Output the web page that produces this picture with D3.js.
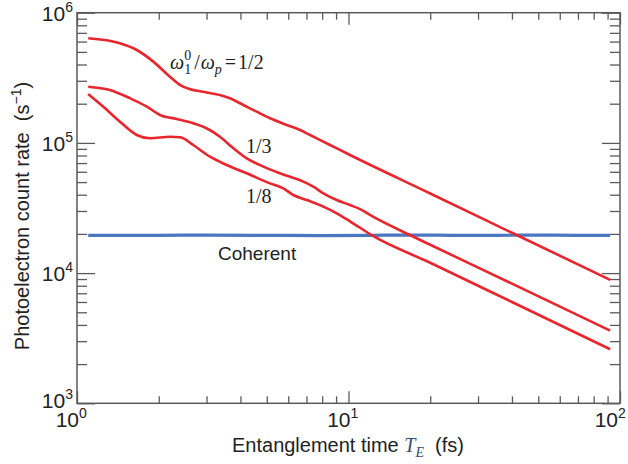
<!DOCTYPE html>
<html>
<head>
<meta charset="utf-8">
<script src="https://cdn.jsdelivr.net/npm/d3@7"></script>
<style>
  html, body { margin: 0; padding: 0; background: #fff; }
  svg { display: block; }
</style>
</head>
<body>
<svg id="chart" width="628" height="464"></svg>
<script>
// ---------------- data ----------------
const xDomain = [1, 100];
const yDomain = [1e3, 1e6];

// ω1⁰/ωp = 1/2
const ratioHalfX = [1.10, 1.44, 1.66, 1.91, 2.20, 2.40, 2.61, 2.92, 3.36, 3.66, 4.10, 4.59, 5.14, 5.92, 6.63, 7.22, 8.55, 10.13, 20, 40, 92];
const ratioHalfY = [6.36e5, 5.82e5, 5.17e5, 4.21e5, 3.22e5, 2.78e5, 2.58e5, 2.47e5, 2.33e5, 2.20e5, 1.955e5, 1.736e5, 1.545e5, 1.373e5, 1.257e5, 1.150e5, 9.64e4, 8.07e4, 4.09e4, 2.04e4, 8.88e3];

// 1/3
const ratioThirdX = [1.10, 1.32, 1.57, 1.81, 2.02, 2.33, 2.68, 3.00, 3.36, 3.77, 4.22, 4.86, 5.59, 6.82, 7.42, 8.08, 9.05, 10.13, 11.03, 12.31, 17.28, 20, 40, 92];
const ratioThirdY = [2.70e5, 2.55e5, 2.20e5, 1.897e5, 1.638e5, 1.526e5, 1.414e5, 1.295e5, 1.116e5, 9.09e4, 7.61e4, 6.57e4, 5.84e4, 5.04e4, 4.61e4, 4.10e4, 3.64e4, 3.33e4, 3.10e4, 2.71e4, 1.91e4, 1.65e4, 8.3e3, 3.62e3];

// 1/8
const ratioEighthX = [1.10, 1.25, 1.44, 1.66, 1.86, 2.20, 2.40, 2.68, 3.09, 3.56, 4.22, 5.14, 5.75, 6.26, 7.02, 8.08, 9.05, 10.13, 12.31, 20, 40, 92];
const ratioEighthY = [2.37e5, 1.897e5, 1.455e5, 1.150e5, 1.085e5, 1.116e5, 1.104e5, 9.64e4, 7.83e4, 6.77e4, 5.84e4, 4.89e4, 4.48e4, 3.98e4, 3.64e4, 3.24e4, 2.88e4, 2.50e4, 1.93e4, 1.20e4, 6.0e3, 2.6e3];

// coherent
const coherentX = [1.10, 2, 3, 5, 8, 12, 18, 25, 35, 50, 70, 92];
const coherentY = [1.95e4, 1.95e4, 1.96e4, 1.95e4, 1.94e4, 1.95e4, 1.96e4, 1.95e4, 1.95e4, 1.96e4, 1.95e4, 1.95e4];

const xMajorTicks = [1, 10, 100];
const yMajorTicks = [1e3, 1e4, 1e5, 1e6];
const xTickExponents = ["0", "1", "2"];
const yTickExponents = ["3", "4", "5", "6"];

// ---------------- layout ----------------
const svg = d3.select("#chart");
const L = 77, R = 620, T = 12.7, B = 403.3;
const x = d3.scaleLog().domain(xDomain).range([L, R]);
const y = d3.scaleLog().domain(yDomain).range([B, T]);

const axisColor = "#5a5a5a";
const red = "#e8262e";
const blue = "#4a77c0";

const minorX = x.ticks().filter(v => !xMajorTicks.includes(v));
const minorY = y.ticks().filter(v => !yMajorTicks.some(m => Math.abs(m - v) / m < 1e-9));

function styleAxis(g) {
  g.select(".domain").remove();
  g.selectAll("line").attr("stroke", axisColor).attr("stroke-width", 1.3);
  g.selectAll("text").remove();
}

// bottom
svg.append("g").attr("transform", `translate(0,${B})`)
  .call(d3.axisBottom(x).tickValues(minorX).tickSize(-7).tickFormat("")).call(styleAxis);
svg.append("g").attr("transform", `translate(0,${B})`)
  .call(d3.axisBottom(x).tickValues(xMajorTicks).tickSize(-12).tickFormat("")).call(styleAxis);
// top
svg.append("g").attr("transform", `translate(0,${T})`)
  .call(d3.axisTop(x).tickValues(minorX).tickSize(-7).tickFormat("")).call(styleAxis);
svg.append("g").attr("transform", `translate(0,${T})`)
  .call(d3.axisTop(x).tickValues(xMajorTicks).tickSize(-12).tickFormat("")).call(styleAxis);
// left
svg.append("g").attr("transform", `translate(${L},0)`)
  .call(d3.axisLeft(y).tickValues(minorY).tickSize(-10).tickFormat("")).call(styleAxis);
svg.append("g").attr("transform", `translate(${L},0)`)
  .call(d3.axisLeft(y).tickValues(yMajorTicks).tickSize(-18).tickFormat("")).call(styleAxis);
// right
svg.append("g").attr("transform", `translate(${R},0)`)
  .call(d3.axisRight(y).tickValues(minorY).tickSize(-10).tickFormat("")).call(styleAxis);
svg.append("g").attr("transform", `translate(${R},0)`)
  .call(d3.axisRight(y).tickValues(yMajorTicks).tickSize(-18).tickFormat("")).call(styleAxis);

// frame
svg.append("rect").attr("x", L).attr("y", T).attr("width", R - L).attr("height", B - T)
  .attr("fill", "none").attr("stroke", axisColor).attr("stroke-width", 1.5);

// curves
const line = d3.line().x(d => x(d[0])).y(d => y(d[1])).curve(d3.curveMonotoneX);
function series(xs, ys) { return xs.map((v, i) => [v, ys[i]]); }

svg.append("path").datum(series(coherentX, coherentY)).attr("d", line)
  .attr("fill", "none").attr("stroke", blue).attr("stroke-width", 3.2);
[[ratioHalfX, ratioHalfY], [ratioThirdX, ratioThirdY], [ratioEighthX, ratioEighthY]].forEach(([xs, ys]) => {
  svg.append("path").datum(series(xs, ys)).attr("d", line)
    .attr("fill", "none").attr("stroke", red).attr("stroke-width", 2.6);
});

// tick labels
const sans = "'Liberation Sans', Arial, sans-serif";
const serif = "'Liberation Serif', 'Times New Roman', serif";

xMajorTicks.forEach((v, i) => {
  const ax = i === xMajorTicks.length - 1 ? x(v) - 2 : x(v) + 2;
  svg.append("text").attr("x", ax).attr("y", 427)
    .attr("text-anchor", "end").attr("font-family", sans).attr("fill", "#222")
    .attr("font-size", 21).text("10");
  svg.append("text").attr("x", ax).attr("y", 418)
    .attr("text-anchor", "start").attr("font-family", sans).attr("fill", "#222")
    .attr("font-size", 14).text(xTickExponents[i]);
});
yMajorTicks.forEach((v, i) => {
  const off = v === 1e3 ? 5 : 8;
  const t = svg.append("text").attr("x", 73).attr("y", y(v) + off)
    .attr("text-anchor", "end").attr("font-family", sans).attr("fill", "#222");
  t.append("tspan").attr("font-size", 21).text("10");
  t.append("tspan").attr("font-size", 14).attr("dy", -9).text(yTickExponents[i]);
});

// axis titles
const xt = svg.append("text").attr("x", 348).attr("y", 452).attr("text-anchor", "middle")
  .attr("font-family", sans).attr("font-size", 20).attr("fill", "#222");
xt.append("tspan").text("Entanglement time ");
xt.append("tspan").attr("font-family", serif).attr("font-style", "italic").attr("fill", "#3a4d72").text("T");
xt.append("tspan").attr("font-family", serif).attr("font-style", "italic").attr("fill", "#3a4d72")
  .attr("font-size", 14).attr("dy", 5).text("E");
xt.append("tspan").attr("dy", -5).text("\u00a0\u00a0(fs)");

const yt = svg.append("text").attr("transform", "translate(29,216) rotate(-90)").attr("text-anchor", "middle")
  .attr("font-family", sans).attr("font-size", 20).attr("fill", "#222");
yt.append("tspan").text("Photoelectron count rate\u00a0\u00a0(s");
yt.append("tspan").attr("font-size", 14).attr("dy", -8).text("\u22121");
yt.append("tspan").attr("dy", 8).text(")");

// annotations
const ann = svg.append("text").attr("x", 170).attr("y", 69).attr("font-family", serif)
  .attr("font-size", 20).attr("fill", "#222");
ann.append("tspan").attr("font-style", "italic").text("ω");
ann.append("tspan").attr("font-size", 14).attr("dy", 5).text("1");
ann.append("tspan").attr("font-size", 14).attr("dx", -7).attr("dy", -14).text("0");
ann.append("tspan").attr("dy", 9).attr("dx", 3).text("/");
ann.append("tspan").attr("font-style", "italic").attr("dx", 1).text("ω");
ann.append("tspan").attr("font-style", "italic").attr("font-size", 14).attr("dy", 5).text("p");
ann.append("tspan").attr("dy", -5).attr("dx", 3).text("=");
ann.append("tspan").attr("dx", 2).text("1/2");

svg.append("text").attr("x", 246).attr("y", 153).attr("font-family", serif).attr("font-size", 20)
  .attr("fill", "#222").text("1/3");
svg.append("text").attr("x", 246).attr("y", 203).attr("font-family", serif).attr("font-size", 20)
  .attr("fill", "#222").text("1/8");
svg.append("text").attr("x", 218).attr("y", 260).attr("font-family", sans).attr("font-size", 19)
  .attr("fill", "#222").text("Coherent");
</script>
</body>
</html>
